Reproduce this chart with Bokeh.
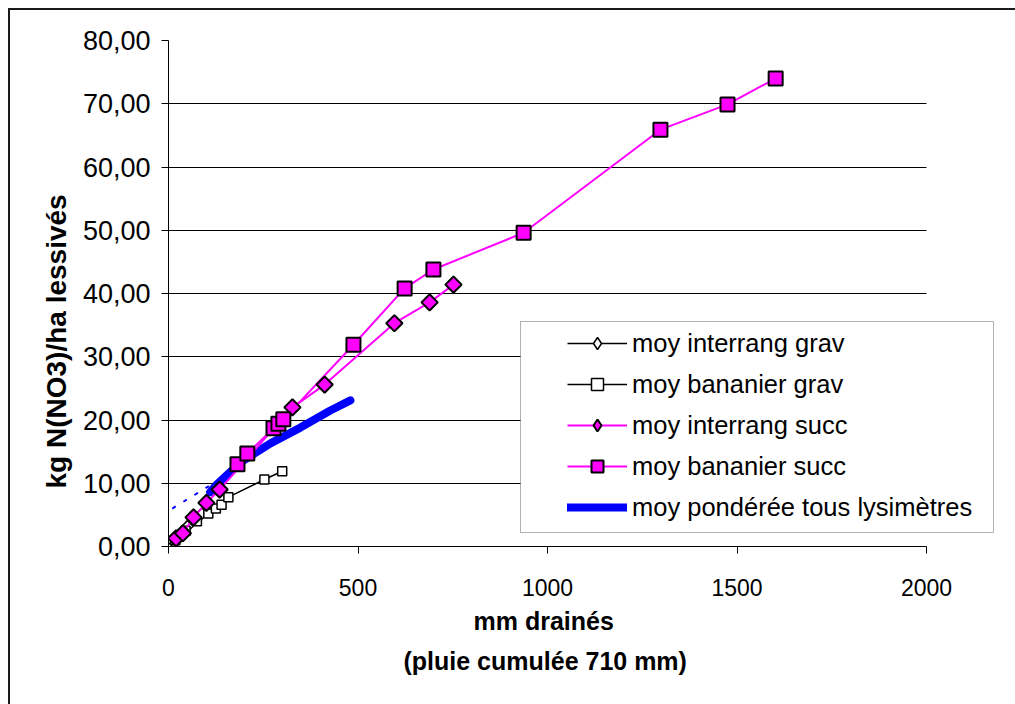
import math
from bokeh.plotting import figure
from bokeh.models import (Range1d, FixedTicker, Legend, LegendItem, BoxAnnotation,
                          Title, Grid)
from bokeh.embed import file_html
from bokeh.resources import INLINE

# ---- data ----
x_ticks = [0, 500, 1000, 1500, 2000]
x_tick_labels = ["0", "500", "1000", "1500", "2000"]
y_ticks = [0, 10, 20, 30, 40, 50, 60, 70, 80]
y_tick_labels = ["0,00", "10,00", "20,00", "30,00", "40,00", "50,00", "60,00", "70,00", "80,00"]
x_label_1 = "mm drainés"
x_label_2 = "(pluie cumulée 710 mm)"
y_label = "kg N(NO3)/ha lessivés"

interrang_grav_x = [12, 30, 50, 68, 88]
interrang_grav_y = [0.8, 2.0, 3.2, 4.2, 5.2]

bananier_grav_x = [18, 45, 75, 105, 125, 140, 158, 253, 300]
bananier_grav_y = [1.0, 2.5, 4.0, 5.2, 6.0, 6.6, 7.8, 10.6, 11.9]

interrang_succ_x = [20, 38, 66, 100, 135, 327, 412, 596, 689, 752]
interrang_succ_y = [1.3, 2.1, 4.6, 6.9, 9.0, 22.0, 25.6, 35.3, 38.6, 41.4]

bananier_succ_x = [182, 208, 277, 290, 303, 488, 623, 699, 937, 1298, 1475, 1602]
bananier_succ_y = [13.0, 14.7, 18.7, 19.4, 20.1, 31.9, 40.8, 43.8, 49.6, 65.9, 69.9, 74.0]

ponderee_x = [110, 124, 190, 269, 348, 427, 480]
ponderee_y = [8.6, 9.6, 13.3, 16.3, 18.8, 21.5, 23.1]

trend_x = [10, 190]
trend_y = [6.0, 12.6]

labels = ["moy interrang grav", "moy bananier grav", "moy interrang succ",
          "moy bananier succ", "moy pondérée tous lysimètres"]

MAGENTA = "#FF00FF"
BLUE = "#0000FF"
FONT = "Liberation Sans"

X_MAX = 2000
# frame extends to the right of the x axis end so the legend box is not clipped
X_VIEW_END = X_MAX * (1006 - 168) / (926 - 168)

p = figure(width=1015, height=704, output_backend="svg", toolbar_location=None,
           x_range=Range1d(0, X_VIEW_END), y_range=Range1d(0, 80),
           min_border_left=168, min_border_right=9, min_border_top=40,
           min_border_bottom=158)
p.outline_line_color = None
p.background_fill_color = "white"
p.border_fill_alpha = 0
p.styles = {
    "background-color": "white",
    "background-image": "linear-gradient(#1a1a1a, #1a1a1a), linear-gradient(#1a1a1a, #1a1a1a)",
    "background-size": "2px 100%, 100% 2px",
    "background-position": "8px 8px, 8px 8px",
    "background-repeat": "no-repeat",
}

# grid (horizontal lines only, limited to the x axis extent)
p.xgrid.grid_line_color = None
p.ygrid.ticker = FixedTicker(ticks=y_ticks)
if "cross_bounds" in Grid.properties():
    p.ygrid.grid_line_color = "black"
    p.ygrid.grid_line_width = 1
    p.ygrid.cross_bounds = (0, X_MAX)
else:
    p.ygrid.grid_line_color = None
    p.segment(x0=[0] * len(y_ticks), y0=y_ticks, x1=[X_MAX] * len(y_ticks), y1=y_ticks,
              line_color="black", line_width=1, level="underlay")

# axes
p.xaxis.ticker = FixedTicker(ticks=x_ticks)
p.yaxis.ticker = FixedTicker(ticks=y_ticks)
p.xaxis.bounds = (0, X_MAX)
p.xaxis.major_label_overrides = {t: l for t, l in zip(x_ticks, x_tick_labels)}
p.yaxis.major_label_overrides = {t: l for t, l in zip(y_ticks, y_tick_labels)}
for ax in (p.xaxis, p.yaxis):
    ax.axis_line_color = "black"
    ax.axis_line_width = 1
    ax.major_tick_line_color = "black"
    ax.major_tick_out = 7
    ax.major_tick_in = 0
    ax.minor_tick_line_color = None
    ax.major_label_text_font = FONT
    ax.major_label_text_color = "black"

p.yaxis.major_label_text_font_size = "27px"
p.yaxis.major_label_standoff = 11
p.xaxis.major_label_text_font_size = "23px"
p.xaxis.major_label_standoff = 25

# axis titles
t_x1 = Title(text=x_label_1, align="left", offset=305, standoff=13,
             text_font=FONT, text_font_size="25px", text_font_style="bold",
             text_color="black")
t_x2 = Title(text=x_label_2, align="left", offset=235, standoff=7,
             text_font=FONT, text_font_size="25px", text_font_style="bold",
             text_color="black")
p.add_layout(t_x1, "below")
p.add_layout(t_x2, "below")
t_y = Title(text=y_label, align="left", offset=58, standoff=16,
            text_font=FONT, text_font_size="28px", text_font_style="bold",
            text_color="black")
p.add_layout(t_y, "left")

# trend (dashed)
p.line(trend_x, trend_y, line_color=BLUE, line_width=2, line_dash="4 9")

# grav series
l1 = p.line(interrang_grav_x, interrang_grav_y, line_color="black", line_width=1.5)
l2 = p.line(bananier_grav_x, bananier_grav_y, line_color="black", line_width=1.5)
s1 = p.scatter(interrang_grav_x, interrang_grav_y, marker="square", angle=math.pi / 4,
               size=8, fill_color="white", line_color="black", line_width=1.5)
s2 = p.scatter(bananier_grav_x, bananier_grav_y, marker="square",
               size=9, fill_color="white", line_color="black", line_width=1.5)

# weighted mean
l5 = p.line(ponderee_x, ponderee_y, line_color=BLUE, line_width=8, line_cap="round",
            line_join="round")

# succ series
l3 = p.line(interrang_succ_x, interrang_succ_y, line_color=MAGENTA, line_width=2)
l4 = p.line(bananier_succ_x, bananier_succ_y, line_color=MAGENTA, line_width=2)
s3 = p.scatter(interrang_succ_x, interrang_succ_y, marker="square", angle=math.pi / 4,
               size=11.5, fill_color=MAGENTA, line_color="black", line_width=2)
s4 = p.scatter(bananier_succ_x, bananier_succ_y, marker="square",
               size=14, fill_color=MAGENTA, line_color="black", line_width=2)

# hidden diamond glyphs used only for the legend (legend ignores marker rotation)
d1 = p.scatter(interrang_grav_x, interrang_grav_y, marker="diamond", size=10,
               fill_color="white", line_color="black", line_width=1.5, visible=False)
d3 = p.scatter(interrang_succ_x, interrang_succ_y, marker="diamond", size=14,
               fill_color=MAGENTA, line_color="black", line_width=2, visible=False)

# legend frame
legend_box = BoxAnnotation(left=520, right=993, top=321, bottom=532,
                           left_units="canvas", right_units="canvas",
                           top_units="canvas", bottom_units="canvas",
                           fill_color="white", fill_alpha=1.0,
                           line_color="black", line_width=1)
p.add_layout(legend_box)

legend = Legend(items=[
    LegendItem(label=labels[0], renderers=[l1, d1]),
    LegendItem(label=labels[1], renderers=[l2, s2]),
    LegendItem(label=labels[2], renderers=[l3, d3]),
    LegendItem(label=labels[3], renderers=[l4, s4]),
    LegendItem(label=labels[4], renderers=[l5]),
], location=(399, 24))
legend.border_line_color = None
legend.background_fill_alpha = 0
legend.padding = 8
legend.spacing = 11
legend.glyph_width = 60
legend.glyph_height = 30
legend.label_height = 30
legend.label_standoff = 5
legend.label_text_font = FONT
legend.label_text_font_size = "25.5px"
legend.label_text_color = "black"
legend.label_text_baseline = "middle"
legend.margin = 0
p.add_layout(legend, "center")

open("out.html", "w").write(file_html(p, INLINE))
